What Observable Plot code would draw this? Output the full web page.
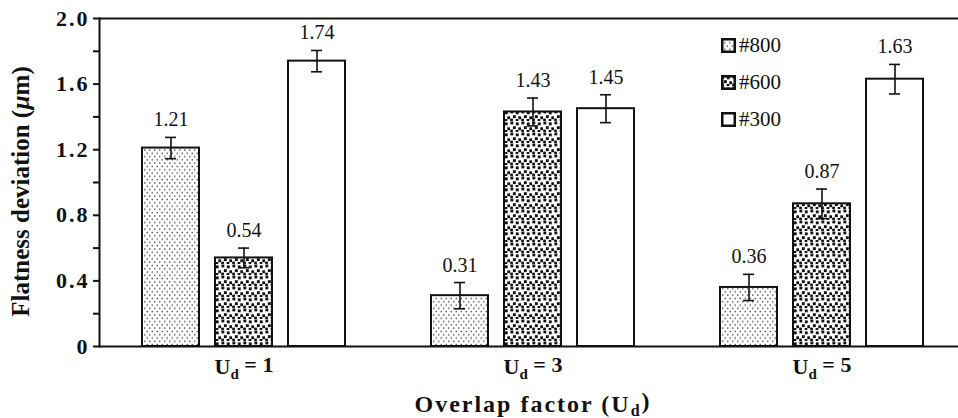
<!DOCTYPE html>
<html>
<head>
<meta charset="utf-8">
<script src="https://cdn.jsdelivr.net/npm/d3@7"></script>
<script src="https://cdn.jsdelivr.net/npm/@observablehq/plot@0.6"></script>
<style>
  html, body { margin: 0; padding: 0; background: #fff; overflow: hidden; }
  #chart { position: relative; width: 958px; height: 418px; }
  .legend { position: absolute; left: 721px; top: 27px; font-family: "Liberation Serif", "Times New Roman", serif; font-size: 21px; color: #111; }
  .legend .item { display: flex; align-items: center; height: 37px; }
  .legend svg { margin-right: 3px; }
</style>
</head>
<body>
<!-- fill patterns for the abrasive grit sizes -->
<svg width="0" height="0" style="position:absolute">
  <defs>
    <pattern id="grit800" patternUnits="userSpaceOnUse" width="5" height="6.6">
      <rect width="5" height="6.6" fill="#fff"/>
      <rect x="0.6" y="0.8" width="1.3" height="1.3" fill="#333"/>
      <rect x="3.1" y="4.1" width="1.3" height="1.3" fill="#333"/>
    </pattern>
    <pattern id="grit600" patternUnits="userSpaceOnUse" width="11" height="11">
      <rect width="11" height="11" fill="#fff"/>
      <rect x="0.4" y="0.5" width="2.9" height="2.9" fill="#111"/>
      <rect x="5.8" y="1.4" width="2.9" height="2.9" fill="#111"/>
      <rect x="2.9" y="5.2" width="2.9" height="2.9" fill="#111"/>
      <rect x="8.3" y="6.3" width="2.9" height="2.9" fill="#111"/>
      <rect x="0.2" y="8.6" width="2.7" height="2.7" fill="#111"/>
      <rect x="5.6" y="9.0" width="2.7" height="2.7" fill="#111"/>
    </pattern>
  </defs>
</svg>
<div id="chart"></div>
<script>
// Overlap factors (U_d) and grit sizes
const groups = [1, 3, 5];
const series = ["#800", "#600", "#300"];

// Mean flatness deviation (µm) for each overlap factor
const flatness800 = [1.21, 0.31, 0.36];
const flatness600 = [0.54, 1.43, 0.87];
const flatness300 = [1.74, 1.45, 1.63];

// Half-length of the error bars (µm)
const error800 = [0.065, 0.08, 0.08];
const error600 = [0.06, 0.085, 0.09];
const error300 = [0.065, 0.085, 0.09];

// Y axis ticks (labelled every 0.4)
const yTicks = [0, 0.2, 0.4, 0.6, 0.8, 1.0, 1.2, 1.4, 1.6, 1.8, 2.0];

const fills = ["url(#grit800)", "url(#grit600)", "#fff"];

const valuesBySeries = [flatness800, flatness600, flatness300];
const errorsBySeries = [error800, error600, error300];
const rows = [];
groups.forEach((g, gi) => {
  series.forEach((s, si) => {
    rows.push({group: g, series: s, value: valuesBySeries[si][gi], err: errorsBySeries[si][gi], fill: fills[si]});
  });
});

const serif = '"Liberation Serif", "Times New Roman", serif';
const yFormat = d => d === 0 ? "0" : (Math.round(d * 10) % 4 === 0 ? d.toFixed(1) : "");

const chart = Plot.plot({
  width: 958,
  height: 418,
  marginLeft: 98,
  marginRight: -8,
  marginTop: 18,
  marginBottom: 72,
  style: {fontFamily: serif, color: "#111", background: "#fff", overflow: "hidden"},
  fx: {domain: groups, padding: 0},
  x: {domain: series, axis: null, paddingInner: 0.216, paddingOuter: 0.564},
  y: {domain: [0, 2]},
  color: {type: "identity"},
  marks: [
    Plot.barY(rows, {fx: "group", x: "series", y: "value", fill: "fill", stroke: "#111", strokeWidth: 2}),
    Plot.ruleY([0, 2], {stroke: "#111", strokeWidth: 2}),
    Plot.frame({anchor: "left", facetAnchor: "left", stroke: "#111", strokeWidth: 2}),
    Plot.axisY(yTicks, {
      tickSize: 6, tickPadding: 4, tickFormat: yFormat, strokeWidth: 2,
      fontSize: 22, fontWeight: "bold",
      label: "Flatness deviation (µm)", labelAnchor: "center", labelOffset: 88, labelArrow: false
    }),
    Plot.ruleX(rows, {fx: "group", x: "series", y1: d => d.value - d.err, y2: d => d.value + d.err, stroke: "#111", strokeWidth: 1.6}),
    Plot.tickY(rows, {fx: "group", x: "series", y: d => d.value - d.err, insetLeft: 23, insetRight: 23, stroke: "#111", strokeWidth: 1.6}),
    Plot.tickY(rows, {fx: "group", x: "series", y: d => d.value + d.err, insetLeft: 23, insetRight: 23, stroke: "#111", strokeWidth: 1.6}),
    Plot.text(rows, {fx: "group", x: "series", y: d => d.value + d.err, text: d => d.value.toFixed(2), lineAnchor: "bottom", dy: -11, fontSize: 20, fill: "#111"}),
    Plot.axisFx({
      anchor: "bottom", tickSize: 0, tickPadding: 12, tickFormat: d => `Ud = ${d}`,
      fontSize: 22, fontWeight: "bold",
      label: "Overlap factor (Ud)", labelAnchor: "center", labelOffset: 65, labelArrow: false
    })
  ]
});

const svg = d3.select(chart);

// Wider bold tick labels on the y axis
svg.selectAll('[aria-label="y-axis tick label"] text').style("letter-spacing", "2px");

// Subscript "d" in the overlap-factor labels
function subscriptD(sel, fs) {
  sel.each(function () {
    const t = d3.select(this);
    const txt = t.text();
    const i = txt.indexOf("Ud");
    if (i < 0) return;
    t.text(null);
    t.append("tspan").text(txt.slice(0, i + 1));
    t.append("tspan").attr("font-size", fs).attr("dy", "0.3em").text("d");
    t.append("tspan").attr("dy", "-0.3em").text(txt.slice(i + 2));
  });
}
subscriptD(svg.selectAll('[aria-label="fx-axis tick label"] text'), 15);
subscriptD(svg.selectAll('[aria-label="fx-axis label"] text'), 16);
svg.selectAll('[aria-label="fx-axis label"] text')
  .attr("font-weight", "bold").attr("font-size", 24).style("letter-spacing", "2px");

// Italic µ in the y axis title
svg.selectAll('[aria-label="y-axis label"] text').each(function () {
  const t = d3.select(this);
  t.attr("font-weight", "bold").attr("font-size", 25).attr("dx", -9);
  t.text(null);
  t.append("tspan").text("Flatness deviation (");
  t.append("tspan").attr("font-style", "italic").text("µ");
  t.append("tspan").text("m)");
});

const container = document.getElementById("chart");
container.appendChild(chart);

// Legend
const legend = document.createElement("div");
legend.className = "legend";
series.forEach((s, i) => {
  const item = document.createElement("div");
  item.className = "item";
  item.innerHTML = `<svg width="15" height="15"><rect x="1.25" y="1.25" width="12.5" height="12.5" fill="${fills[i]}" stroke="#111" stroke-width="2.5"/></svg><span>${s}</span>`;
  legend.appendChild(item);
});
container.appendChild(legend);
</script>
</body>
</html>
